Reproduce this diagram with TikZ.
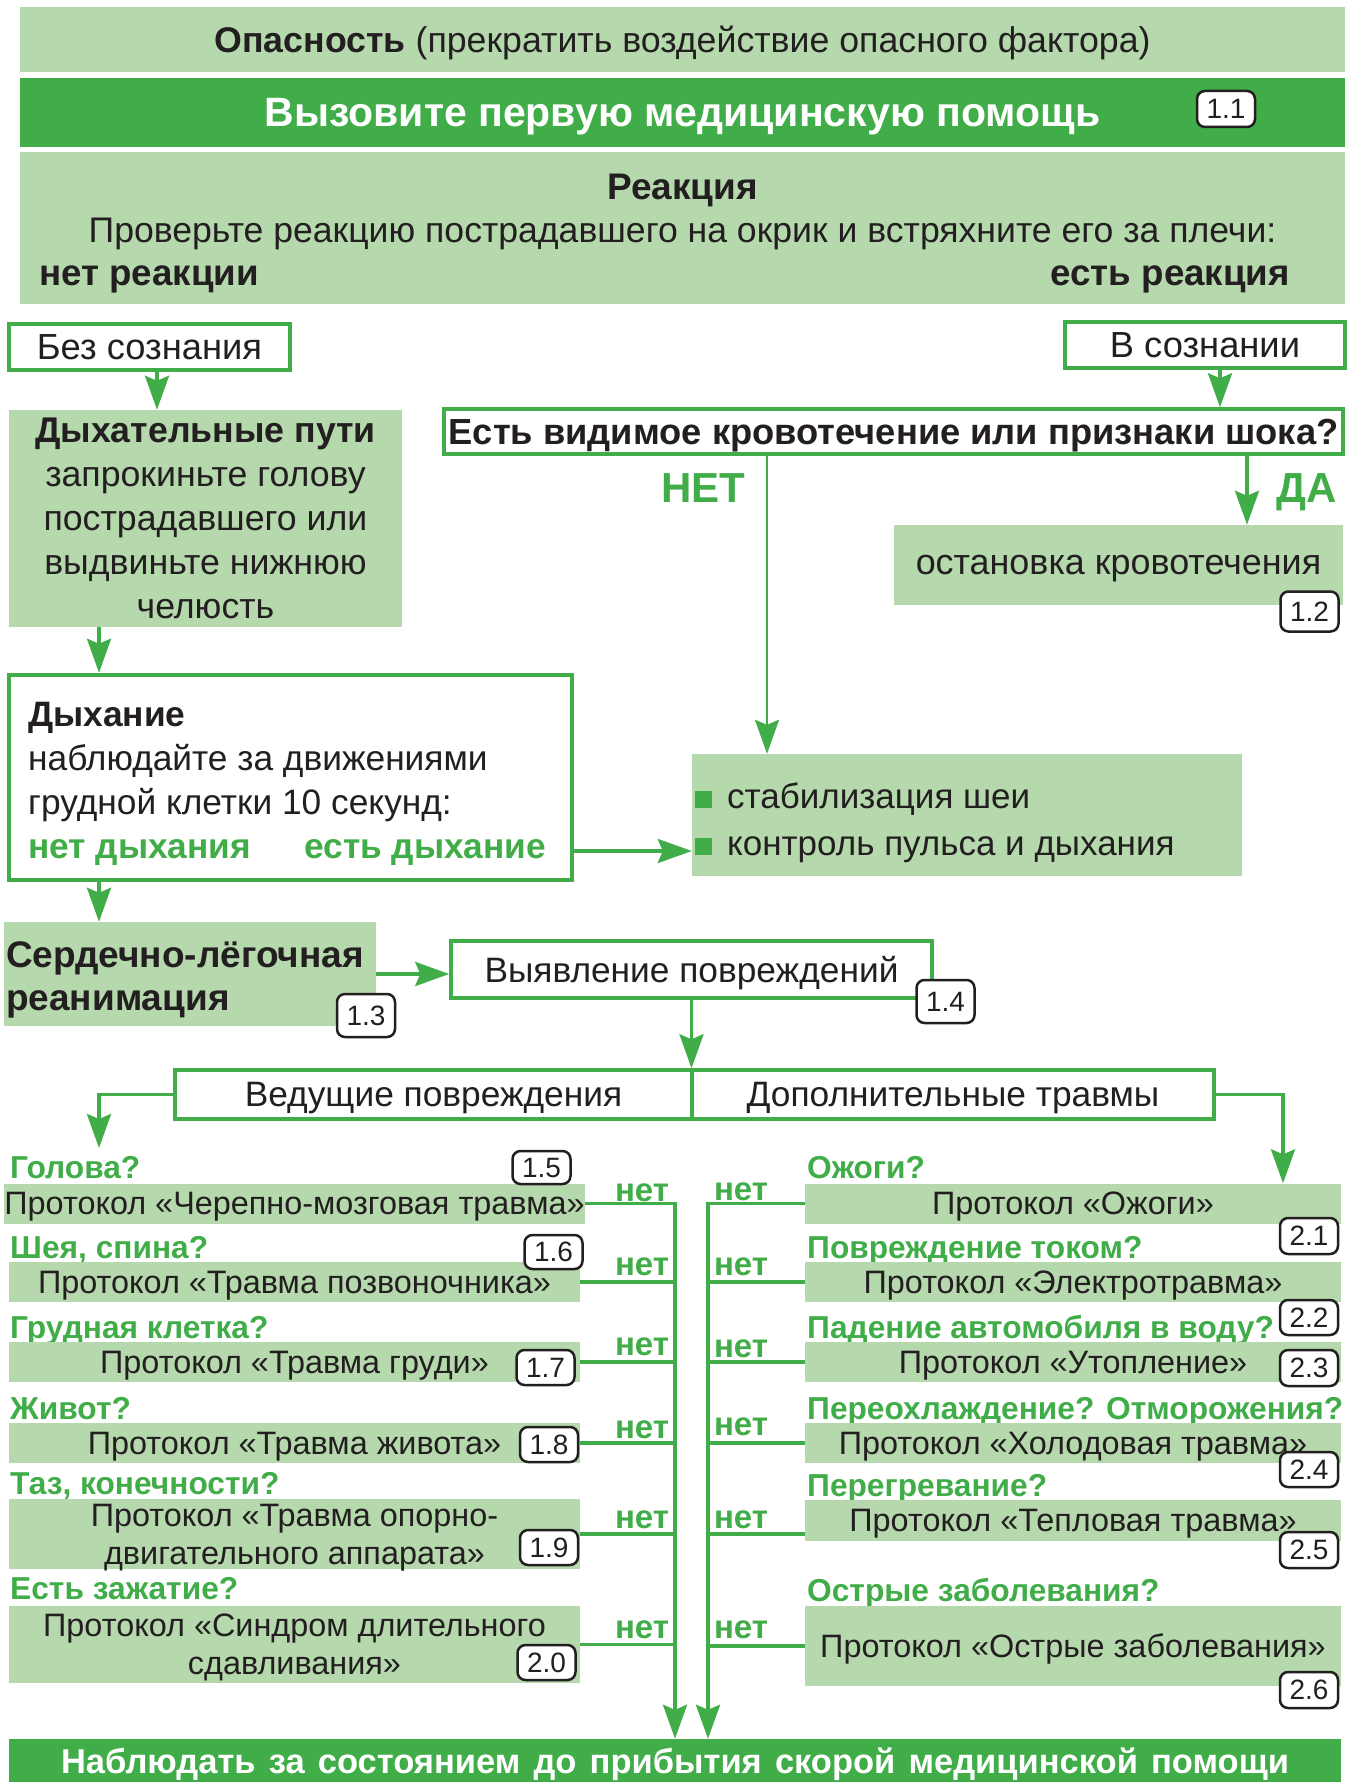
\documentclass[tikz,border=0pt]{standalone}
\usepackage{fontspec}
\setmainfont{Liberation Sans}
\usepackage{tikz}
\usetikzlibrary{arrows.meta}
\definecolor{lgreen}{RGB}{181,216,172}
\definecolor{dgreen}{RGB}{65,173,73}
\definecolor{ink}{RGB}{35,31,32}
\newcommand{\fsz}[2]{\fontsize{#1}{#2}\selectfont}

\begin{document}
\begin{tikzpicture}[x=1pt, y=-1pt,
    every node/.style={inner sep=0pt, text depth=0pt, text=ink, font=\fsz{35.3}{44}},
    pale/.style={fill=lgreen},
    frame/.style={draw=dgreen, line width=3.5pt, fill=white},
    badge/.style={draw=ink, line width=2.5pt, rounded corners=8pt, fill=white, minimum width=58pt, minimum height=36pt, font=\fsz{28}{30}},
    quest/.style={anchor=west, text=dgreen, font=\bfseries\fsz{31.7}{34}},
    nolbl/.style={text=dgreen, font=\bfseries\fsz{33}{34}},
    lrow/.style={pale, minimum width=571pt, minimum height=40pt, font=\fsz{32.4}{38}},
    rrow/.style={pale, minimum width=536pt, minimum height=40pt, font=\fsz{32.4}{38}},
    link/.style={draw=dgreen, line width=3.5pt},
    arr/.style={link, -{Stealth[length=34pt, width=24pt, inset=5pt]}}]
        \useasboundingbox (0,0) rectangle (1348,1782);

        % Nodes
        \node (Danger) [pale, minimum width=1325pt, minimum height=65pt, font=\fsz{35.7}{40}] at (682.5,39.5) {\textbf{Опасность} (прекратить воздействие опасного фактора)};
        \node (Call) [fill=dgreen, minimum width=1325pt, minimum height=69pt, text=white, font=\bfseries\fsz{41}{46}] at (682.5,112.5) {Вызовите первую медицинскую помощь};
        \node (B11) [badge] at (1226,109) {1.1};
        \node (React) [pale, minimum width=1325pt, minimum height=152pt] at (682.5,228) {};
        \node (ReactT) [font=\bfseries\fsz{37}{40}] at (682.5,187) {Реакция};
        \node (ReactQ) [font=\fsz{35.6}{40}] at (682.5,230) {Проверьте реакцию пострадавшего на окрик и встряхните его за плечи:};
        \node (NoReact) [anchor=west, font=\bfseries\fsz{36.7}{40}] at (39,276) {нет реакции};
        \node (YesReact) [anchor=east, font=\bfseries\fsz{36.7}{40}] at (1290,276) {есть реакция};

        \node (NoCons) [frame, minimum width=281pt, minimum height=46pt, font=\fsz{36.3}{40}] at (149.5,347) {Без сознания};
        \node (Cons) [frame, minimum width=280pt, minimum height=46pt, font=\fsz{36.3}{40}] at (1205,345) {В сознании};
        \node (Airway) [pale, minimum width=393pt, minimum height=217pt, align=center, font=\fsz{35.7}{44}] at (205.5,518.5) {\textbf{Дыхательные пути}\\запрокиньте голову\\пострадавшего или\\выдвиньте нижнюю\\челюсть};
        \node (Bleed) [frame, minimum width=899pt, minimum height=45pt, font=\bfseries\fsz{36.3}{40}] at (893.5,431.5) {Есть видимое кровотечение или признаки шока?};
        \node (No) [text=dgreen, font=\bfseries\fsz{42}{46}] at (703,488) {НЕТ};
        \node (Yes) [text=dgreen, font=\bfseries\fsz{42}{46}] at (1307,488) {ДА};
        \node (Stop) [pale, minimum width=449pt, minimum height=80pt, font=\fsz{35.9}{40}] at (1118.5,565) {остановка кровотечения};
        \node (B12) [badge, minimum height=40pt] at (1309.5,611.5) {1.2};

        \node (Breath) [frame, line width=4.5pt, minimum width=563pt, minimum height=205pt] at (290.5,777.5) {};
        \node (BreathT) [anchor=west, align=left] at (28,780) {\textbf{Дыхание}\\наблюдайте за движениями\\грудной клетки 10 секунд:\\{\color{dgreen}\bfseries нет дыхания\hspace{53pt}есть дыхание}};
        \node (Stab) [pale, minimum width=550pt, minimum height=122pt] at (967,815) {};
        \node (StabT) [anchor=west, align=left, font=\fsz{35}{47}] at (695,819) {{\color{dgreen}\rule{17pt}{17pt}}\hspace{15pt}стабилизация шеи\\{\color{dgreen}\rule{17pt}{17pt}}\hspace{15pt}контроль пульса и дыхания};

        \node (CPR) [pale, minimum width=372pt, minimum height=104pt] at (190,974) {};
        \node (CPRT) [anchor=west, align=left, font=\bfseries\fsz{37}{43}] at (6,976.5) {Сердечно-лёгочная\\реанимация};
        \node (B13) [badge, minimum height=43pt] at (366,1015.5) {1.3};
        \node (Detect) [frame, minimum width=481pt, minimum height=57pt] at (691.5,969.5) {Выявление повреждений};
        \node (B14) [badge, minimum height=43pt] at (945.5,1001.5) {1.4};
        \node (Lead) [frame, minimum width=517pt, minimum height=49pt] at (433.5,1094.5) {Ведущие повреждения};
        \node (Extra) [frame, minimum width=522pt, minimum height=49pt] at (953,1094.5) {Дополнительные травмы};

        % Leading injuries
        \node (QHead) [quest] at (10,1167) {Голова?};
        \node (Head) [lrow] at (294.5,1203.5) {Протокол «Черепно-мозговая травма»};
        \node (B15) [badge, minimum height=33pt] at (541.5,1167.5) {1.5};
        \node (QSpine) [quest] at (10,1247) {Шея, спина?};
        \node (Spine) [lrow] at (294.5,1282) {Протокол «Травма позвоночника»};
        \node (B16) [badge, minimum height=34pt] at (553.5,1252) {1.6};
        \node (QChest) [quest] at (10,1327) {Грудная клетка?};
        \node (Chest) [lrow] at (294.5,1362) {Протокол «Травма груди»};
        \node (B17) [badge, minimum height=35pt] at (545.5,1367.5) {1.7};
        \node (QBelly) [quest] at (10,1408) {Живот?};
        \node (Belly) [lrow] at (294.5,1443) {Протокол «Травма живота»};
        \node (B18) [badge, minimum height=35pt] at (549,1444.5) {1.8};
        \node (QLimbs) [quest] at (10,1483) {Таз, конечности?};
        \node (Limbs) [lrow, minimum height=70pt, align=center] at (294.5,1534) {Протокол «Травма опорно-\\двигательного аппарата»};
        \node (B19) [badge, minimum height=35pt] at (549,1547.5) {1.9};
        \node (QCrush) [quest] at (10,1588) {Есть зажатие?};
        \node (Crush) [lrow, minimum height=77pt, align=center] at (294.5,1644.5) {Протокол «Синдром длительного\\сдавливания»};
        \node (B20) [badge, minimum height=35pt] at (546.5,1662.5) {2.0};

        % Additional injuries
        \node (QBurn) [quest] at (807,1167) {Ожоги?};
        \node (Burn) [rrow] at (1073,1203.5) {Протокол «Ожоги»};
        \node (B21) [badge] at (1309,1236) {2.1};
        \node (QShock) [quest] at (807,1247) {Повреждение током?};
        \node (Shock) [rrow] at (1073,1282) {Протокол «Электротравма»};
        \node (B22) [badge, minimum height=35pt] at (1309,1317.5) {2.2};
        \node (QDrown) [quest] at (807,1327) {Падение автомобиля в воду?};
        \node (Drown) [rrow] at (1073,1362) {Протокол «Утопление»};
        \node (B23) [badge] at (1309,1368) {2.3};
        \node (QCold) [quest] at (807,1408) {Переохлаждение? Отморожения?};
        \node (Cold) [rrow] at (1073,1443) {Протокол «Холодовая травма»};
        \node (B24) [badge, minimum height=35pt] at (1309,1469.5) {2.4};
        \node (QHeat) [quest] at (807,1485) {Перегревание?};
        \node (Heat) [rrow, minimum height=41pt] at (1073,1520.5) {Протокол «Тепловая травма»};
        \node (B25) [badge] at (1309,1550) {2.5};
        \node (QAcute) [quest] at (807,1590) {Острые заболевания?};
        \node (Acute) [rrow, minimum height=80pt] at (1073,1646) {Протокол «Острые заболевания»};
        \node (B26) [badge] at (1309,1690) {2.6};

        \node (Watch) [fill=dgreen, minimum width=1332pt, minimum height=44pt, text=white, font=\bfseries\fsz{34.5}{36}] at (675,1761) {\makebox[1228pt][s]{Наблюдать за состоянием до прибытия скорой медицинской помощи}};

        % "no" labels
        \node (N1) [nolbl] at (642,1193) {нет};
        \node (N2) [nolbl] at (642,1267) {нет};
        \node (N3) [nolbl] at (642,1347) {нет};
        \node (N4) [nolbl] at (642,1430) {нет};
        \node (N5) [nolbl] at (642,1520) {нет};
        \node (N6) [nolbl] at (642,1630) {нет};
        \node (M1) [nolbl] at (741,1192) {нет};
        \node (M2) [nolbl] at (741,1267) {нет};
        \node (M3) [nolbl] at (741,1349) {нет};
        \node (M4) [nolbl] at (741,1427) {нет};
        \node (M5) [nolbl] at (741,1520) {нет};
        \node (M6) [nolbl] at (741,1630) {нет};

        % Columns of the arrows
        \coordinate (xA) at (157,0);
        \coordinate (xB) at (1220,0);
        \coordinate (xC) at (99,0);
        \coordinate (xD) at (767,0);
        \coordinate (xE) at (1247,0);
        \coordinate (xF) at (1283,0);
        \coordinate (xR) at (708,0);
        \coordinate (yB) at (0,851);
        \coordinate (hL) at (99,1148);

        % Arrows
        \draw[arr] (NoCons.south -| xA) -- (Airway.north -| xA);
        \draw[arr] (Cons.south -| xB) -- (Bleed.north -| xB);
        \draw[arr] (Airway.south -| xC) -- (Breath.north -| xC);
        \draw[arr] (Breath.south -| xC) -- (CPR.north -| xC);
        \draw[arr, line width=2.5pt] (Bleed.south -| xD) -- (Stab.north -| xD);
        \draw[arr] (Bleed.south -| xE) -- (Stop.north -| xE);
        \draw[arr] (Breath.east |- yB) -- (Stab.west |- yB);
        \draw[arr] (CPR.east) -- (CPR.east -| Detect.west);
        \draw[arr] (Detect.south) -- (Lead.north -| Detect.south);
        \draw[arr] (Lead.west) -| (hL);
        \draw[arr] (Extra.east) -| (Burn.north -| xF);

        \draw[arr] (Head.east) -| (Watch.north);
        \draw[link] (Spine.east) -- (Spine.east -| Watch.north);
        \draw[link] (Chest.east) -- (Chest.east -| Watch.north);
        \draw[link] (Belly.east) -- (Belly.east -| Watch.north);
        \draw[link] (Limbs.east) -- (Limbs.east -| Watch.north);
        \draw[link] (Crush.east) -- (Crush.east -| Watch.north);

        \draw[arr] (Burn.west) -| (Watch.north -| xR);
        \draw[link] (Shock.west) -- (Shock.west -| xR);
        \draw[link] (Drown.west) -- (Drown.west -| xR);
        \draw[link] (Cold.west) -- (Cold.west -| xR);
        \draw[link] (Heat.west |- Limbs.east) -- (xR |- Limbs.east);
        \draw[link] (Acute.west) -- (Acute.west -| xR);
    \end{tikzpicture}
\end{document}
